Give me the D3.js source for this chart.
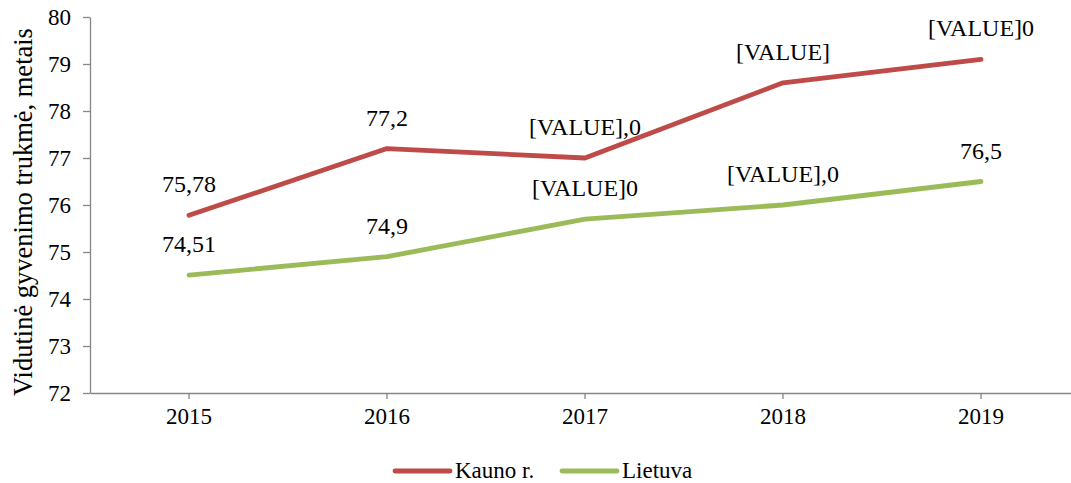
<!DOCTYPE html>
<html>
<head>
<meta charset="utf-8">
<script src="https://cdn.jsdelivr.net/npm/d3@7"></script>
<style>
  body { margin: 0; background: #fff; }
  #canvas { width: 1071px; height: 483px; }
  svg text { font-family: "Liberation Serif", Tinos, "Times New Roman", "DejaVu Serif", serif !important; fill: #000; }
  .axis path, .axis line { stroke: #868686; stroke-width: 1.3; }
  .axis text { font-size: 23px; }
</style>
</head>
<body>
<div id="canvas"></div>
<script>
// data
var years = ['2015', '2016', '2017', '2018', '2019'];
var kauno = [75.78, 77.2, 77.0, 78.6, 79.1];
var lietuva = [74.51, 74.9, 75.7, 76.0, 76.5];
var kaunoLabels = ['75,78', '77,2', '[VALUE],0', '[VALUE]', '[VALUE]0'];
var lietuvaLabels = ['74,51', '74,9', '[VALUE]0', '[VALUE],0', '76,5'];
var yTicks = [72, 73, 74, 75, 76, 77, 78, 79, 80];
var seriesNames = ['Kauno r.', 'Lietuva'];
var colors = ['#BE4B48', '#9BBB59'];

var outerWidth = 1071, outerHeight = 483;
var m = {t: 17, l: 90, b: 90};

var svg = d3.select('#canvas')
    .append('svg')
    .attr('width', outerWidth)
    .attr('height', outerHeight);

var scaleX = d3.scaleBand()
    .domain(years)
    .range([m.l, m.l + 990]);

var scaleY = d3.scaleLinear()
    .domain([72, 80])
    .range([outerHeight - m.b, m.t]);

var axisX = d3.axisBottom(scaleX)
    .tickSizeInner(6)
    .tickSizeOuter(0)
    .tickPadding(9);

var axisY = d3.axisLeft(scaleY)
    .tickValues(yTicks)
    .tickSizeInner(7)
    .tickSizeOuter(0)
    .tickPadding(12)
    .tickFormat(d3.format('d'));

svg.append('g').attr('class', 'axis axis-x')
    .attr('transform', 'translate(0,' + scaleY(72) + ')')
    .call(axisX)
    .attr('font-family', null);

svg.append('g').attr('class', 'axis axis-y')
    .attr('transform', 'translate(' + m.l + ',0)')
    .call(axisY)
    .attr('font-family', null);

// y title
svg.append('text')
    .attr('transform', 'translate(32,212) rotate(-90)')
    .attr('text-anchor', 'middle')
    .style('font-size', '26.5px')
    .text('Vidutinė gyvenimo trukmė, metais');

var series = [
    {name: seriesNames[0], values: kauno, labels: kaunoLabels, color: colors[0]},
    {name: seriesNames[1], values: lietuva, labels: lietuvaLabels, color: colors[1]}
];

var line = d3.line()
    .x(function(d, i) { return scaleX(years[i]) + scaleX.bandwidth() / 2; })
    .y(function(d) { return scaleY(d); });

series.forEach(function(s) {
    svg.append('path')
        .datum(s.values)
        .attr('d', line)
        .attr('fill', 'none')
        .attr('stroke', s.color)
        .attr('stroke-width', 4.8)
        .attr('stroke-linecap', 'round')
        .attr('stroke-linejoin', 'round');

    svg.selectAll(null)
        .data(s.values)
        .enter()
        .append('text')
        .attr('x', function(d, i) { return scaleX(years[i]) + scaleX.bandwidth() / 2; })
        .attr('y', function(d) { return scaleY(d) - 23; })
        .attr('text-anchor', 'middle')
        .style('font-size', '24px')
        .text(function(d, i) { return s.labels[i]; });
});

// legend
var legendX = [395, 562];
var legend = svg.selectAll('.legend')
    .data(series)
    .enter()
    .append('g')
    .attr('class', 'legend')
    .attr('transform', function(d, i) { return 'translate(' + legendX[i] + ',471)'; });

legend.append('line')
    .attr('x1', 0).attr('x2', 55)
    .attr('stroke', function(d) { return d.color; })
    .attr('stroke-width', 4.8)
    .attr('stroke-linecap', 'round');

legend.append('text')
    .attr('x', 60)
    .attr('y', 7)
    .style('font-size', '23px')
    .text(function(d) { return d.name; });
</script>
</body>
</html>
